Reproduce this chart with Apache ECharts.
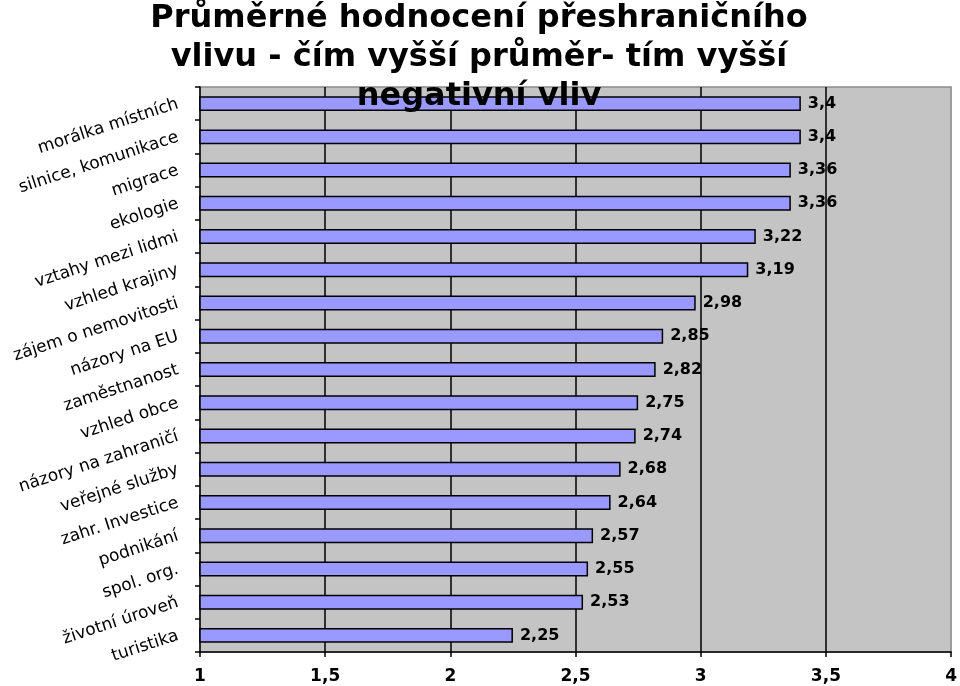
<!DOCTYPE html>
<html>
<head>
<meta charset="utf-8">
<script src="https://cdn.jsdelivr.net/npm/echarts@6/dist/echarts.min.js"></script>
<style>html,body{margin:0;padding:0;background:#fff}#c{width:960px;height:686px}</style>
</head>
<body>
<div id="c"></div>
<script>
const titleLines = ["Průměrné hodnocení přeshraničního", "vlivu - čím vyšší průměr- tím vyšší", "negativní vliv"];
const categories = ["morálka místních", "silnice, komunikace", "migrace", "ekologie", "vztahy mezi lidmi", "vzhled krajiny", "zájem o nemovitosti", "názory na EU", "zaměstnanost", "vzhled obce", "názory na zahraničí", "veřejné služby", "zahr. Investice", "podnikání", "spol. org.", "životní úroveň", "turistika"];
const values = [3.4, 3.4, 3.36, 3.36, 3.22, 3.19, 2.98, 2.85, 2.82, 2.75, 2.74, 2.68, 2.64, 2.57, 2.55, 2.53, 2.25];
const xMin = 1, xMax = 4, xStep = 0.5;

const fmt = v => String(v).replace('.', ',');
const FF = 'DejaVu Sans';
const chart = echarts.init(document.getElementById('c'));
chart.setOption({
  animation: false,
  backgroundColor: '#fff',
  title: {
    text: titleLines.join('\n'),
    left: 474, textAlign: 'center', top: -6,
    textStyle: { fontFamily: FF, fontSize: 32, fontWeight: 'bold', color: '#000', lineHeight: 39 }
  },
  grid: { left: 200, right: 6, top: 87, bottom: 34, show: true, backgroundColor: '#c4c4c4', borderColor: '#8a8a8a', borderWidth: 1.5, containLabel: false },
  xAxis: {
    type: 'value', min: xMin, max: xMax, interval: xStep,
    axisLine: { show: true, lineStyle: { color: '#000', width: 1.5 } },
    axisTick: { show: true, length: 5, lineStyle: { color: '#000', width: 1.5 } },
    axisLabel: { formatter: fmt, color: '#000', fontFamily: FF, fontSize: 17, fontWeight: 'bold', margin: 16 },
    splitLine: { show: true, showMinLine: false, showMaxLine: false, lineStyle: { color: '#000', width: 1.5 } }
  },
  yAxis: {
    type: 'category', data: categories, inverse: true,
    axisLine: { show: true, lineStyle: { color: '#000', width: 1.5 } },
    axisTick: { show: true, length: 5, lineStyle: { color: '#000', width: 1.5 } },
    axisLabel: { color: '#000', fontFamily: FF, fontSize: 17, rotate: 18, margin: 22 },
    splitLine: { show: false }
  },
  series: [{
    type: 'bar', data: values, barWidth: '45%',
    itemStyle: { color: '#9999ff', borderColor: '#000', borderWidth: 1.5 },
    label: { show: true, position: 'right', distance: 7, formatter: p => fmt(p.value), color: '#000', fontFamily: FF, fontSize: 16, fontWeight: 'bold' }
  }]
});
</script>
</body>
</html>
